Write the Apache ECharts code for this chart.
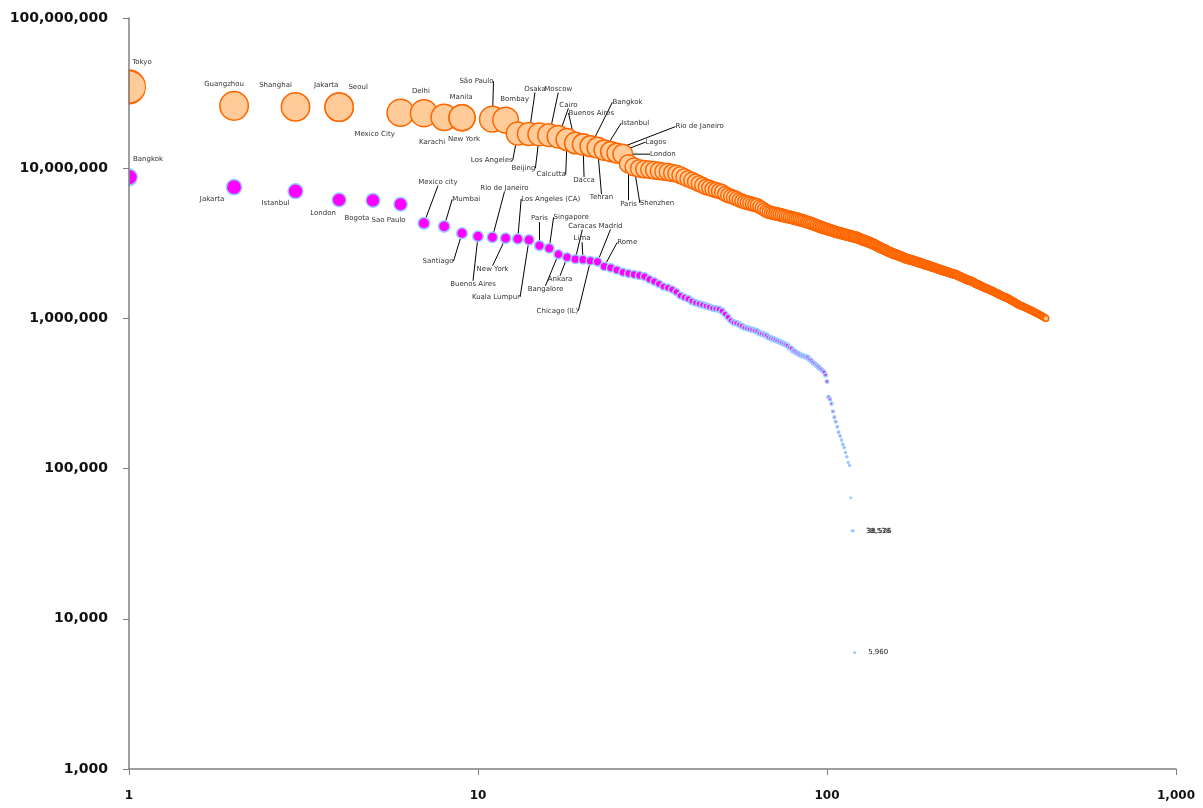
<!DOCTYPE html>
<html><head><meta charset="utf-8">
<script src="https://cdn.jsdelivr.net/npm/echarts@6/dist/echarts.min.js"></script>
<style>html,body{margin:0;padding:0;background:#fff}#c{width:1203px;height:808px}</style>
</head><body><div id="c"></div>
<script>
// ---------------- DATA ----------------
const xTicks = [1, 10, 100, 1000];
const yTicks = [1000, 10000, 100000, 1000000, 10000000, 100000000];

// Orange series: agglomerations (population in thousands), sorted by size
const metroNames = ['Tokyo','Guangzhou','Shanghai','Jakarta','Seoul','Mexico City','Delhi','Karachi','Manila','New York',
  'São Paulo','Bombay','Los Angeles','Osaka','Beijing','Moscow','Cairo','Calcutta','Buenos Aires','Dacca',
  'Bangkok','Tehran','Istanbul','Rio de Janeiro','Lagos','London','Paris','Shenzhen'];
const metroPopK = [
34800,26000,25600,25500,25500,23400,23200,21800,21700,21700,
21200,20900,17000,16900,16800,16600,16200,15500,14700,14400,
14000,13700,13200,12900,12600,12400,10700,10200,9960,9850,
9780,9700,9600,9500,9450,9300,9200,9000,8750,8500,
8300,8100,7900,7700,7500,7400,7250,7150,7050,6950,
6750,6600,6500,6400,6280,6150,6050,5960,5900,5850,
5780,5720,5670,5550,5430,5320,5200,5110,5060,5020,
4990,4950,4920,4880,4840,4800,4760,4730,4700,4660,
4630,4600,4560,4520,4490,4450,4410,4380,4340,4300,
4260,4220,4180,4140,4100,4060,4030,4000,3970,3940,
3910,3880,3850,3820,3790,3760,3740,3720,3700,3680,
3660,3640,3620,3600,3580,3560,3540,3520,3500,3490,
3480,3450,3420,3400,3370,3340,3320,3300,3280,3260,
3240,3210,3190,3170,3150,3120,3100,3070,3040,3010,
2990,2960,2940,2920,2900,2880,2860,2830,2810,2790,
2770,2750,2740,2720,2700,2690,2670,2660,2640,2630,
2610,2600,2590,2570,2560,2540,2530,2510,2500,2490,
2480,2470,2460,2450,2440,2430,2420,2410,2400,2390,
2380,2370,2360,2350,2340,2330,2320,2310,2300,2290,
2280,2270,2260,2255,2250,2240,2230,2220,2210,2200,
2195,2190,2180,2170,2160,2150,2145,2140,2130,2120,
2110,2100,2095,2090,2080,2075,2070,2060,2050,2045,
2040,2030,2025,2020,2010,2000,1995,1990,1985,1980,
1975,1970,1965,1960,1950,1940,1930,1920,1910,1900,
1895,1890,1880,1870,1860,1855,1850,1840,1830,1820,
1815,1810,1800,1795,1790,1785,1780,1775,1770,1765,
1760,1750,1740,1730,1720,1710,1700,1695,1690,1685,
1680,1675,1670,1660,1650,1645,1640,1630,1625,1620,
1610,1605,1600,1595,1590,1585,1580,1575,1570,1565,
1560,1550,1545,1540,1535,1530,1525,1520,1515,1510,
1500,1495,1490,1485,1480,1475,1470,1465,1460,1450,
1445,1440,1435,1430,1425,1420,1415,1410,1405,1400,
1395,1390,1388,1385,1380,1375,1370,1365,1360,1355,
1350,1345,1340,1335,1330,1325,1320,1315,1310,1305,
1300,1295,1290,1285,1280,1275,1270,1265,1260,1255,
1250,1245,1240,1235,1230,1225,1222,1218,1215,1212,
1210,1207,1203,1200,1197,1193,1190,1187,1183,1180,
1177,1173,1170,1167,1163,1160,1157,1153,1150,1147,
1143,1140,1137,1133,1130,1127,1123,1120,1117,1113,
1110,1107,1103,1100,1097,1093,1090,1087,1083,1080,
1077,1073,1070,1067,1063,1060,1057,1053,1050,1047,
1043,1040,1037,1033,1030,1027,1023,1020,1017,1013,
1010,1007,1003,1000];

// Magenta series: cities proper (population), sorted by size
const cityNames = ['Bangkok','Jakarta','Istanbul','London','Bogota','Sao Paulo','Mexico city','Mumbai','Santiago','Buenos Aires',
  'Rio de Janeiro','New York','Los Angeles (CA)','Kuala Lumpur','Paris','Singapore','Bangalore','Ankara','Caracas','Lima',
  'Chicago (IL)','Madrid','Rome'];
const cityPop = [
8710000,7470000,7030000,6150000,6100000,5750000,4300000,4100000,3690000,3520000,
3470000,3420000,3380000,3330000,3050000,2930000,2670000,2550000,2480000,2460000,
2420000,2380000,2220000,2170000,2100000,2030000,1990000,1960000,1930000,1900000,
1820000,1760000,1700000,1630000,1600000,1560000,1500000,1420000,1380000,1350000,
1300000,1270000,1250000,1230000,1210000,1190000,1170000,1160000,1150000,1120000,
1070000,1020000,970000,940000,930000,910000,890000,870000,860000,850000,
840000,830000,820000,800000,790000,780000,770000,750000,740000,730000,
720000,710000,700000,690000,680000,670000,660000,640000,630000,610000,
600000,590000,580000,570000,565000,560000,555000,550000,535000,525000,
510000,500000,490000,480000,470000,460000,450000,440000,420000,380000,
300000,290000,270000,240000,220000,205000,190000,175000,165000,155000,
145000,138000,128000,120000,110000,105000,64000,38538,38526,5960];
const cityTailLabelled = 3;   // last points carry value labels

// ---------------- STYLE / LAYOUT ----------------
const PLOT = {left: 129, right: 27, top: 18, bottom: 39};
// label centre offsets from the point [dx, dy, leader line?]
const metroLabelOffsets = [
 [13,-25,0],[-10,-22,0],[-20,-22,0],[-13,-22,0],[19,-20,0],[-26,21,0],[-3,-22,0],[-12,25,0],[-1,-20,0],[2,22,0],
 [-16,-38,1],[9,-21,0],[-26,27,1],[6,-45,1],[-16,34,1],[9,-46,1],[10,-32,1],[-16,35,1],[16,-30,1],[1,36,1],
 [37,-44,1],[4,50,1],[31,-27,1],[89,-25,1],[39,-11,1],[40,0,1],[0,40,1],[23,36,1]];
const cityLabelOffsets = [
 [19,-18,0],[-22,12,0],[-20,12,0],[-16,13,0],[-16,18,0],[-12,16,0],[14,-41,1],[22,-27,1],[-24,28,1],[-5,48,1],
 [12,-49,1],[-13,31,1],[33,-40,1],[-33,57,1],[0,-27,1],[22,-31,1],[-13,35,1],[-7,22,1],[7,-33,1],[-1,-21,1],
 [-33,50,1],[13,-36,1],[23,-24,1]];

// right half of a circle: bubbles sitting on the y axis are cut off by the plot edge
const HALF_RIGHT = 'path://M0,0 A10,10 0 0,1 0,20 Z';

const fmt = v => Math.round(v).toLocaleString('en-US');
const competitionRanks = arr => arr.map(v => 1 + arr.filter(w => w > v).length);
const metroPop = metroPopK.map(v => v * 1000);
const maxPop = Math.max(...metroPop, ...cityPop);
const bubble = v => Math.max(1.6, 33 * Math.sqrt(v / maxPop));

function buildData(values, names, offsets, tailCount, shifts) {
  const rk = competitionRanks(values);
  return values.map((v, i) => {
    const item = {value: [rk[i], v]};
    shifts[i] = 0;
    if (rk[i] === xTicks[0]) {
      const d = bubble(v);
      item.symbol = HALF_RIGHT;
      item.symbolSize = [d / 2, d];
      item.symbolOffset = [d / 4, 0];
      shifts[i] = d / 4;
    }
    if (i < names.length) {
      item.name = names[i];
      item.label = {show: true};
      item.labelLine = {show: !!offsets[i][2]};
    } else if (tailCount && i >= values.length - tailCount) {
      item.label = {show: true, position: 'right', distance: 12, color: '#222', opacity: 1,
        formatter: p => fmt(p.value[1])};
    }
    return item;
  });
}

const labelBase = {
  show: false, position: 'inside', fontSize: 7, fontFamily: 'DejaVu Sans', color: '#333',
  textBorderWidth: 0, textBorderColor: 'rgba(0,0,0,0)', formatter: p => p.name
};
const lineBase = {show: false, length2: 0, lineStyle: {color: '#000', width: 1}};

function layoutFor(offsets, n, shifts) {
  return function (params) {
    if (params.dataIndex < n) {
      const o = offsets[params.dataIndex];
      return {dx: o[0] - (shifts[params.dataIndex] || 0), dy: o[1]};
    }
    return {};
  };
}

const axisLabelStyle = {fontFamily: 'DejaVu Sans', fontWeight: 'bold', color: '#111'};
const cityShift = [], metroShift = [];
const cityData = buildData(cityPop, cityNames, cityLabelOffsets, cityTailLabelled, cityShift);
const metroData = buildData(metroPop, metroNames, metroLabelOffsets, 0, metroShift);

const chart = echarts.init(document.getElementById('c'));
chart.setOption({
  animation: false,
  backgroundColor: '#fff',
  grid: {left: PLOT.left, right: PLOT.right, top: PLOT.top, bottom: PLOT.bottom, containLabel: false},
  xAxis: {
    type: 'log', logBase: 10, min: xTicks[0], max: xTicks[xTicks.length - 1], z: 10,
    axisLine: {lineStyle: {color: '#808080', width: 1.5}},
    axisTick: {show: true, length: 6, lineStyle: {color: '#808080'}},
    minorTick: {show: false}, splitLine: {show: false},
    axisLabel: Object.assign({fontSize: 12, margin: 21, formatter: v => fmt(v)}, axisLabelStyle)
  },
  yAxis: {
    type: 'log', logBase: 10, min: yTicks[0], max: yTicks[yTicks.length - 1], z: 10,
    axisLine: {show: true, lineStyle: {color: '#808080', width: 1.5}},
    axisTick: {show: true, length: 6, lineStyle: {color: '#808080'}},
    minorTick: {show: false}, splitLine: {show: false},
    axisLabel: Object.assign({fontSize: 14, margin: 21, formatter: v => fmt(v)}, axisLabelStyle)
  },
  series: [
    {
      type: 'scatter', name: 'Cities', z: 2,
      data: cityData,
      symbolSize: val => bubble(val[1]),
      itemStyle: {color: '#FF00FF', borderColor: '#99CCFF', borderWidth: 1.5, opacity: 1},
      label: labelBase, labelLine: lineBase,
      labelLayout: layoutFor(cityLabelOffsets, cityNames.length, cityShift),
      emphasis: {disabled: true}, clip: false
    },
    {
      type: 'scatter', name: 'Agglomerations', z: 2,
      data: metroData,
      symbolSize: val => bubble(val[1]),
      itemStyle: {color: '#FFCC99', borderColor: '#FF6600', borderWidth: 1.5, opacity: 1},
      label: labelBase, labelLine: lineBase,
      labelLayout: layoutFor(metroLabelOffsets, metroNames.length, metroShift),
      emphasis: {disabled: true}, clip: false
    }
  ]
});
</script>
</body></html>
